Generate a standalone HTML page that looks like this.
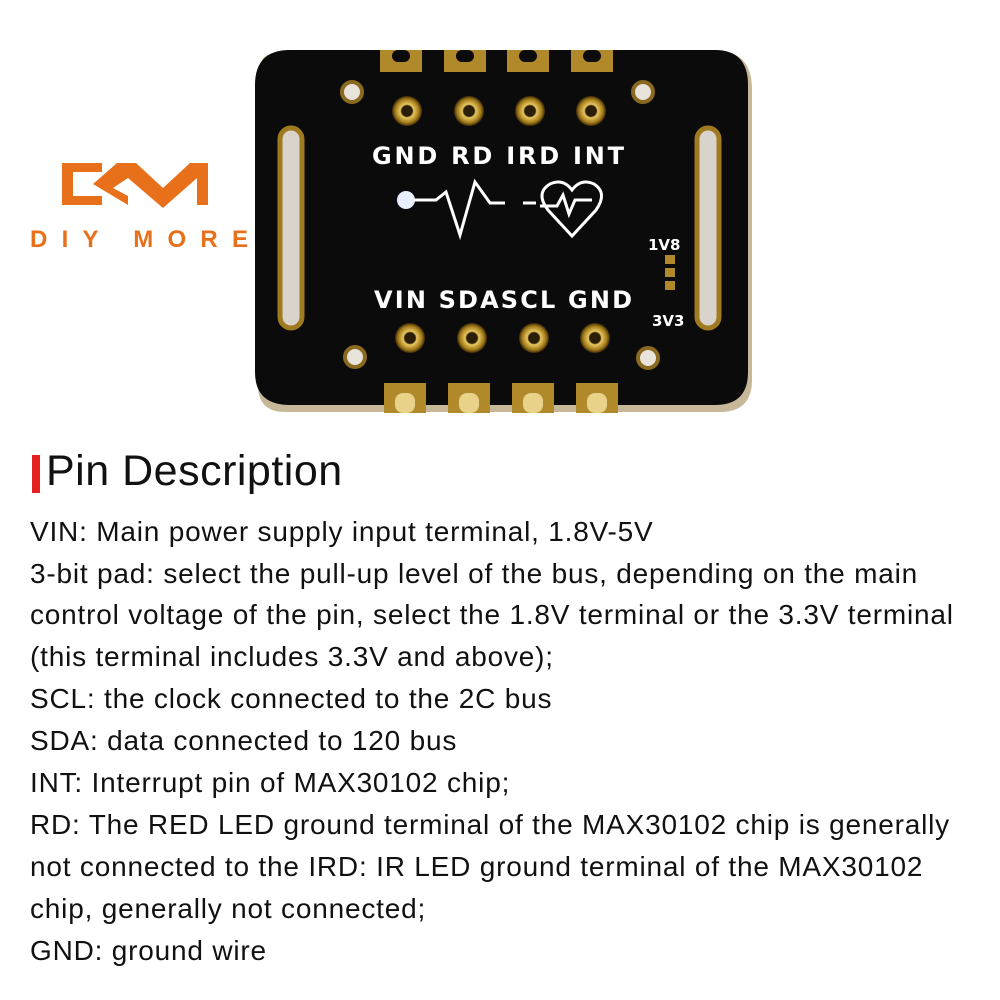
<!DOCTYPE html>
<html><head><meta charset="utf-8"><style>
body{margin:0;width:1000px;height:1000px;background:#fff;position:relative;overflow:hidden;font-family:"Liberation Sans",sans-serif}
.t{position:absolute;left:30px;font-size:28px;letter-spacing:0.8px;color:#111;white-space:nowrap}
</style></head><body>
<svg width="1000" height="440" style="position:absolute;left:0;top:0">
<defs><radialGradient id="g" cx="50%" cy="50%" r="50%"><stop offset="0.35" stop-color="#2a1e08"/><stop offset="0.45" stop-color="#e8c860"/><stop offset="0.8" stop-color="#a07818"/><stop offset="1" stop-color="#3a2a0a"/></radialGradient></defs>
<path d="M262 62 Q262 52 290 52 L720 52 Q752 52 752 90 L752 380 Q752 412 720 412 L285 412 Q258 412 258 385 Z" fill="#c8b89a"/>
<path d="M255 85 Q255 50 290 50 L715 50 Q748 50 748 85 L748 372 Q748 405 715 405 L290 405 Q255 405 255 372 Z" fill="#0b0b0b"/>
<g fill="#b08a2a">
<rect x="380" y="50" width="42" height="22"/><rect x="444" y="50" width="42" height="22"/><rect x="507" y="50" width="42" height="22"/><rect x="571" y="50" width="42" height="22"/>
<rect x="384" y="383" width="42" height="30"/><rect x="448" y="383" width="42" height="30"/><rect x="512" y="383" width="42" height="30"/><rect x="576" y="383" width="42" height="30"/>
</g>
<g fill="#0b0b0b"><rect x="392" y="50" width="18" height="12" rx="6"/><rect x="456" y="50" width="18" height="12" rx="6"/><rect x="519" y="50" width="18" height="12" rx="6"/><rect x="583" y="50" width="18" height="12" rx="6"/></g>
<g fill="#e8d28a"><rect x="395" y="393" width="20" height="20" rx="8"/><rect x="459" y="393" width="20" height="20" rx="8"/><rect x="523" y="393" width="20" height="20" rx="8"/><rect x="587" y="393" width="20" height="20" rx="8"/></g>
<g fill="url(#g)"><circle cx="407" cy="111" r="15"/><circle cx="469" cy="111" r="15"/><circle cx="530" cy="111" r="15"/><circle cx="591" cy="111" r="15"/>
<circle cx="410" cy="338" r="15"/><circle cx="472" cy="338" r="15"/><circle cx="534" cy="338" r="15"/><circle cx="595" cy="338" r="15"/></g>
<g fill="#e8e4dc" stroke="#8a6a20" stroke-width="4"><circle cx="352" cy="92" r="10"/><circle cx="643" cy="92" r="10"/><circle cx="355" cy="357" r="10"/><circle cx="648" cy="358" r="10"/></g>
<rect x="280" y="128" width="22" height="200" rx="11" fill="#d8d4cc" stroke="#a07a20" stroke-width="5"/>
<rect x="697" y="128" width="22" height="200" rx="11" fill="#d8d4cc" stroke="#a07a20" stroke-width="5"/>
<g fill="#fff" font-family="DejaVu Sans,sans-serif" font-weight="bold">
<text x="372" y="164" font-size="24" textLength="252">GND RD IRD INT</text>
<text x="374" y="308" font-size="24" textLength="258">VIN SDASCL GND</text>
<text x="648" y="250" font-size="15">1V8</text>
<text x="652" y="326" font-size="15">3V3</text>
</g>
<circle cx="406" cy="200" r="9" fill="#e8f0ff"/>
<polyline points="414,200 436,200 446,192 460,235 475,182 490,203 505,203" fill="none" stroke="#fff" stroke-width="3"/>
<line x1="523" y1="203" x2="536" y2="203" stroke="#fff" stroke-width="3"/>
<path d="M572 236 L548 210 Q535 193 550 184 Q563 178 572 190 Q581 178 594 184 Q608 193 596 210 Z" fill="none" stroke="#fff" stroke-width="3"/>
<polyline points="540,206 557,206 563,195 569,214 575,200 592,200" fill="none" stroke="#fff" stroke-width="3"/>
<g fill="#b08a2a"><rect x="665" y="255" width="10" height="9"/><rect x="665" y="268" width="10" height="9"/><rect x="665" y="281" width="10" height="9"/></g>
<g fill="#e8701a">
<path d="M62 163 L102 163 L102 172 L73 172 L73 196 L102 196 L102 205 L62 205 Z"/>
<path d="M93 184 L117 163 L136 163 L163 188 L190 163 L208 163 L208 205 L197 205 L197 178 L163 208 L128 178 L113 188 L128 196 L128 205 L93 184 Z"/>
</g>
<text x="30" y="247" font-size="24" fill="#e8701a" font-weight="bold" textLength="218" font-family="Liberation Sans,sans-serif">DIY MORE</text>
</svg>
<div style="position:absolute;left:32px;top:455px;width:8px;height:38px;background:#e32020"></div>
<div style="position:absolute;left:46px;top:447px;font-size:43px;letter-spacing:0.5px;color:#111">Pin Description</div>
<div class="t" style="top:516px">VIN: Main power supply input terminal, 1.8V-5V</div>
<div class="t" style="top:558px">3-bit pad: select the pull-up level of the bus, depending on the main</div>
<div class="t" style="top:599px">control voltage of the pin, select the 1.8V terminal or the 3.3V terminal</div>
<div class="t" style="top:641px">(this terminal includes 3.3V and above);</div>
<div class="t" style="top:683px">SCL: the clock connected to the 2C bus</div>
<div class="t" style="top:725px">SDA: data connected to 120 bus</div>
<div class="t" style="top:767px">INT: Interrupt pin of MAX30102 chip;</div>
<div class="t" style="top:809px">RD: The RED LED ground terminal of the MAX30102 chip is generally</div>
<div class="t" style="top:851px">not connected to the IRD: IR LED ground terminal of the MAX30102</div>
<div class="t" style="top:893px">chip, generally not connected;</div>
<div class="t" style="top:935px">GND: ground wire</div>
</body></html>
